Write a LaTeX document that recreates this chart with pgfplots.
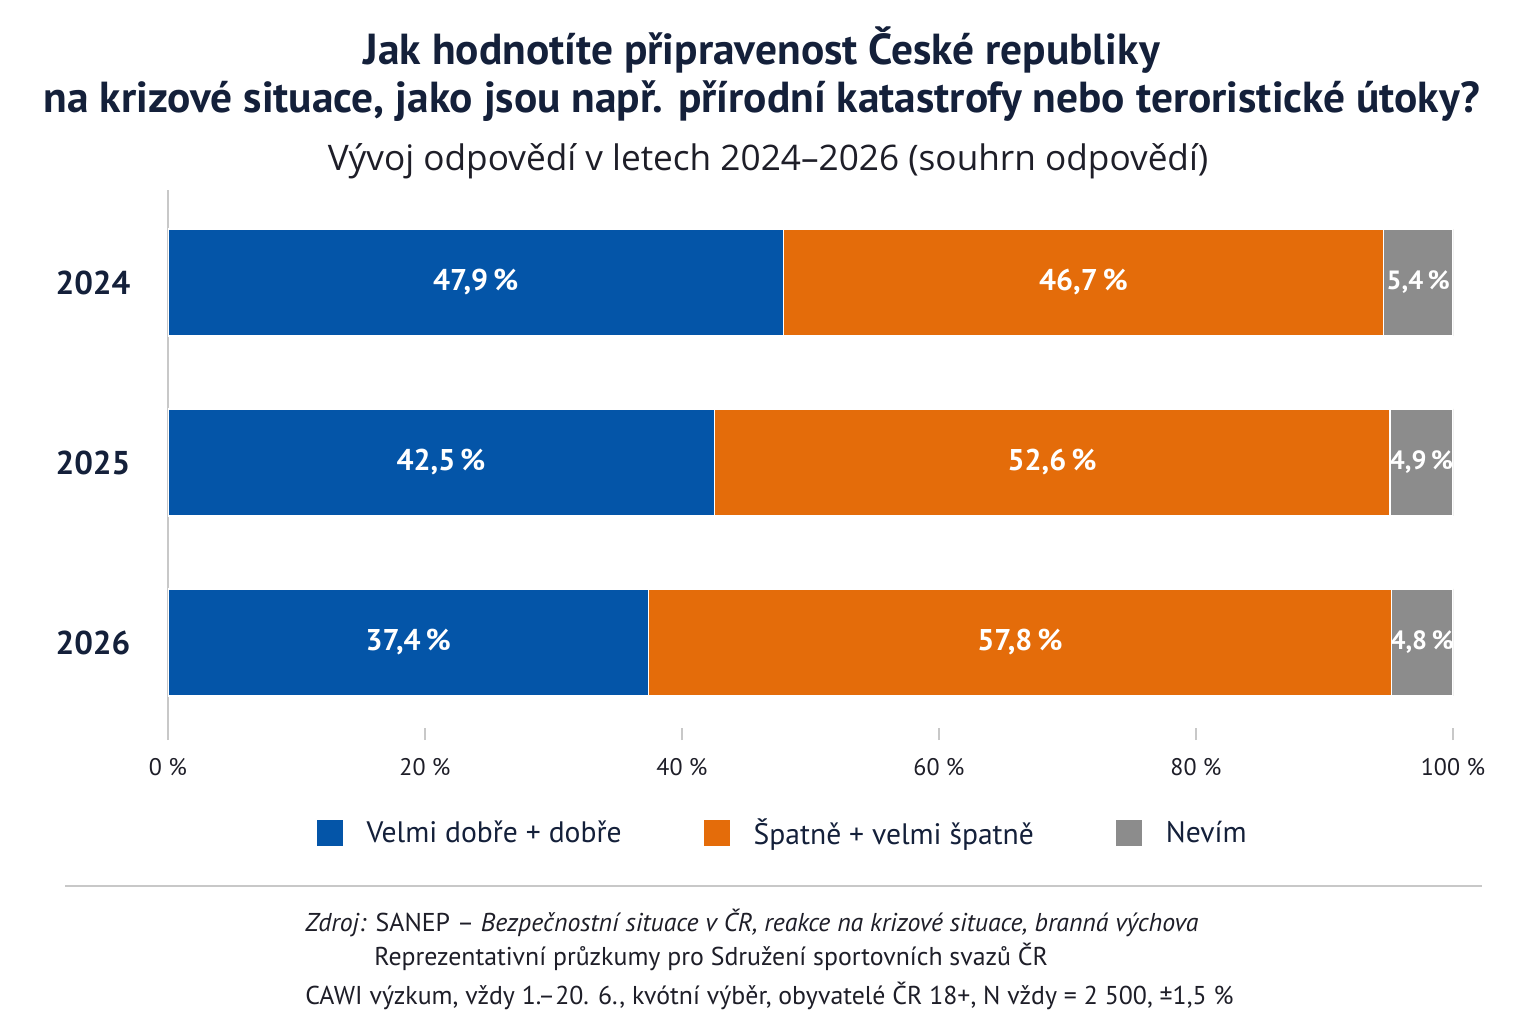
\documentclass[border=0pt]{standalone}
\usepackage{fontspec}
\setmainfont{PT Sans}
\newfontfamily\subfont{Open Sans}
\usepackage{pgfplots}
\usepackage{pgfplotstable}
\pgfplotsset{compat=1.18}
\definecolor{cblue}{RGB}{4,85,168}
\definecolor{corange}{RGB}{228,108,10}
\definecolor{cgray}{RGB}{140,140,140}
\definecolor{navy}{RGB}{20,32,58}
\definecolor{txt}{RGB}{30,30,40}
\definecolor{lgray}{RGB}{200,200,200}

\pgfplotstableread{
year blue orange gray
0 47.9 46.7 5.4
1 42.5 52.6 4.9
2 37.4 57.8 4.8
}\datatable

\begin{document}
\begin{tikzpicture}
\fill[white] (0,0) rectangle (768pt,512pt);
\useasboundingbox (0,0) rectangle (768pt,512pt);
\begin{axis}[
  at={(84pt,142pt)}, anchor=south west,
  scale only axis, width=642.5pt, height=275pt,
  xbar stacked, bar width=53.5pt,
  xmin=0, xmax=100,
  ymin=-0.514, ymax=2.542, y dir=reverse,
  enlargelimits=false,
  axis x line*=bottom, axis y line*=left,
  x axis line style={draw=none},
  y axis line style={draw=lgray, line width=0.8pt},
  xtick={0,20,40,60,80,100},
  xticklabels={0 \%,20 \%,40 \%,60 \%,80 \%,100 \%},
  xtick align=inside, major tick length=6pt,
  xtick style={draw=lgray, line width=0.8pt},
  ytick={0,1,2}, yticklabels={2024,2025,2026},
  ytick style={draw=none},
  xticklabel style={font=\fontsize{12}{14}\selectfont, text=txt, yshift=-5.5pt},
  yticklabel style={font=\fontsize{16.5}{18}\selectfont\bfseries, text=navy, anchor=center, xshift=-37.5pt},
  visualization depends on=rawx \as \rawx,
  nodes near coords={\pgfmathprintnumber[fixed,fixed zerofill,precision=1,use comma,assume math mode=true]{\rawx}\,\%},
  every node near coord/.append style={anchor=center, text=white, font=\fontsize{15}{17}\selectfont\bfseries},
  legend columns=3,
  legend style={at={(0.479,-0.169)}, anchor=center, draw=none, fill=none,
    font=\fontsize{14.8}{17}\selectfont, text=navy,
    /tikz/every even column/.append style={column sep=39pt}},
  legend image code/.code={\fill[#1, draw=none] (0pt,-6.5pt) rectangle (13pt,6.5pt); \path[draw=none, fill=none] (13pt,0pt) -- (23pt,0pt);},
]
\addplot[fill=cblue, draw=white, line width=0.6pt] table[x=blue, y=year] {\datatable};
\addlegendentry{Velmi dobře + dobře}
\addplot[fill=corange, draw=white, line width=0.6pt] table[x=orange, y=year] {\datatable};
\addlegendentry{Špatně + velmi špatně}
\addplot[fill=cgray, draw=white, line width=0.6pt,
  every node near coord/.append style={font=\fontsize{13.2}{15}\selectfont\bfseries, inner sep=0pt}] table[x=gray, y=year] {\datatable};
\addlegendentry{Nevím}
\end{axis}
\node[align=center, text=navy, font=\fontsize{21.7}{24}\selectfont\bfseries] at (381pt,475pt)
  {Jak hodnotíte připravenost České republiky\\na krizové situace, jako jsou např. přírodní katastrofy nebo teroristické útoky?};
\node[text=txt, font=\subfont\fontsize{17.6}{20}\selectfont] at (384pt,431.5pt)
  {Vývoj odpovědí v letech 2024–2026 (souhrn odpovědí)};
\draw[lgray, line width=0.9pt] (32.5pt,69pt) -- (741pt,69pt);
\node[anchor=west, text=txt, font=\fontsize{12.9}{15}\selectfont, inner sep=0pt] at (152.5pt,50.5pt)
  {\textit{Zdroj:} SANEP – \textit{Bezpečnostní situace v ČR, reakce na krizové situace, branná výchova}};
\node[anchor=west, text=txt, font=\fontsize{12.9}{15}\selectfont, inner sep=0pt] at (187pt,33.5pt)
  {Reprezentativní průzkumy pro Sdružení sportovních svazů ČR};
\node[anchor=west, text=txt, font=\fontsize{12.9}{15}\selectfont, inner sep=0pt] at (152.5pt,14pt)
  {CAWI výzkum, vždy 1.–20. 6., kvótní výběr, obyvatelé ČR 18+, N vždy = 2 500, ±1,5 \%};
\end{tikzpicture}
\end{document}
